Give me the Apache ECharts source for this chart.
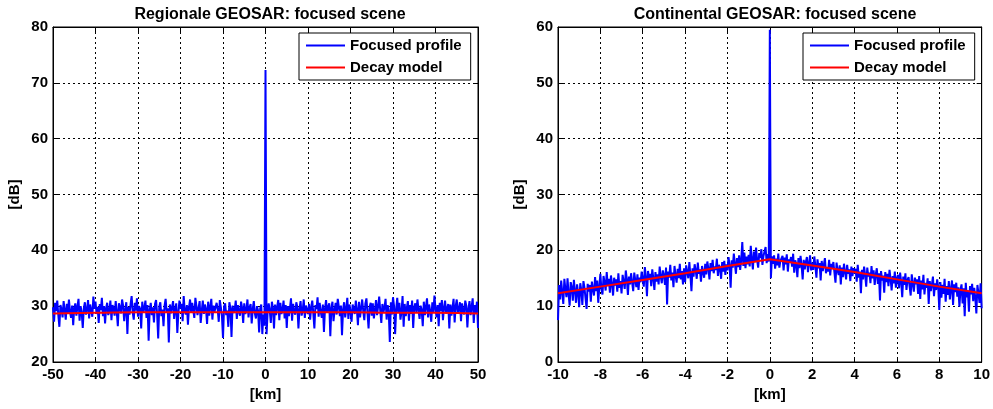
<!DOCTYPE html>
<html>
<head>
<meta charset="utf-8">
<script src="https://cdn.jsdelivr.net/npm/echarts@6/dist/echarts.min.js"></script>
<style>
html,body{margin:0;padding:0;background:#fff;}
#c{width:993px;height:409px;}
</style>
</head>
<body>
<div id="c"></div>
<script>
// ---------- DATA ----------
const titleL = 'Regionale GEOSAR: focused scene';
const titleR = 'Continental GEOSAR: focused scene';
const legendNames = ['Focused profile', 'Decay model'];

// Left panel: samples from -50 km to 50 km every 0.25 km (401 samples)
const startL = -50, stepL = 0.25;
const profileL = [
 29.8,27.2,30.6,29.1,31.0,28.4,26.3,30.2,29.5,28.0,30.9,29.3,27.6,30.4,28.8,31.2,29.0,27.9,30.1,26.6,
 29.7,30.5,28.3,29.9,31.3,27.4,30.0,28.9,26.1,29.6,30.7,28.5,29.4,31.1,27.8,30.3,29.2,28.1,31.7,29.5,
 30.8,28.6,29.9,27.0,30.4,29.3,31.5,28.2,30.0,26.9,29.7,30.6,28.4,29.1,31.0,27.5,30.2,29.6,28.3,30.9,
 29.0,26.4,30.5,29.8,28.7,31.2,30.1,27.3,29.4,30.7,25.0,29.9,28.5,30.3,31.8,28.9,27.6,30.6,29.2,31.4,
 28.1,30.0,29.5,26.0,30.8,28.8,29.7,31.0,27.9,30.2,23.8,29.3,30.6,28.4,29.8,27.1,30.4,31.1,28.6,24.2,
 29.9,30.7,28.2,29.4,26.4,30.1,31.3,28.9,29.6,23.5,30.3,28.7,29.0,30.9,27.7,29.5,30.5,25.2,28.8,31.0,
 29.6,30.4,27.3,31.8,29.1,28.5,30.2,26.7,29.8,31.2,28.9,30.6,29.3,27.9,31.5,30.0,28.4,29.7,30.9,27.0,
 29.2,31.0,28.6,30.3,29.5,26.8,30.8,28.3,29.9,31.3,27.6,30.1,29.0,28.7,30.6,29.4,27.2,31.1,29.8,28.2,
 24.3,29.9,30.5,28.4,29.2,26.3,30.7,29.6,24.5,30.1,28.8,29.4,31.0,27.7,30.2,29.1,28.3,30.8,29.7,27.0,
 30.5,28.6,29.3,31.2,28.0,29.8,30.4,26.9,29.5,30.9,28.7,27.8,30.0,29.2,25.3,29.6,30.3,25.0,28.5,26.5,
 72.3,
 25.0,28.9,30.5,29.3,27.0,30.8,29.7,26.0,30.3,28.4,
 29.9,31.1,27.5,30.6,28.6,29.4,31.0,27.8,30.2,26.1,
 30.0,28.2,29.6,31.4,27.4,30.4,29.0,28.5,30.7,29.8,
 26.0,29.5,30.9,28.3,29.2,31.2,27.9,30.1,29.4,28.6,
 30.4,27.6,29.8,31.0,28.7,26.0,30.2,29.5,31.6,28.1,
 30.6,29.0,27.9,30.3,25.4,29.6,31.1,28.8,29.9,30.5,
 24.6,29.7,30.8,27.3,29.2,30.6,28.5,31.3,29.9,28.2,
 30.1,24.8,29.4,30.7,28.0,29.6,31.5,27.7,30.3,29.1,
 27.2,30.3,29.5,28.6,31.0,29.4,26.6,30.8,28.0,29.7,
 31.2,29.1,27.5,30.5,31.4,28.7,26.0,29.9,30.6,28.3,
 30.5,27.8,29.3,31.1,28.4,30.0,31.7,29.2,27.0,30.4,
 28.9,29.8,31.3,27.6,30.2,29.0,23.6,30.7,28.5,31.6,
 30.0,25.0,29.5,31.5,28.8,30.6,27.6,29.0,31.8,26.3,
 30.4,28.2,29.7,30.9,27.4,30.2,28.6,31.0,26.1,29.8,
 30.5,28.9,31.2,29.4,27.7,30.1,29.3,26.4,30.8,28.4,
 29.9,31.4,28.0,30.3,29.1,27.2,30.7,28.8,31.9,29.6,
 28.0,30.2,26.4,30.6,29.1,31.1,27.5,29.7,31.0,28.7,
 29.6,30.4,26.0,30.3,28.3,29.8,31.3,27.1,30.0,31.2,
 28.8,29.4,30.7,27.3,30.5,29.2,28.5,31.0,30.1,26.2,
 29.5,30.9,28.4,29.9,31.4,27.0,30.2,28.6,30.8,26.1
];
const modelLx = [-50,-40,-30,-20,-10,0,10,20,30,40,50];
const modelLy = [28.7,28.8,28.9,28.9,28.9,28.9,28.9,28.9,28.8,28.8,28.7];

// Right panel: samples from -10 km to 10 km every 0.05 km (401 samples)
const startR = -10, stepR = 0.05;
const profileR = [
 7.5,13.8,11.2,14.6,12.5,10.4,14.9,13.0,11.6,15.0,12.2,10.1,14.3,13.4,11.0,14.7,12.8,10.6,13.9,12.4,
 9.8,14.1,12.9,10.2,14.5,13.3,11.4,9.5,14.0,12.6,13.8,10.8,14.4,13.1,11.9,15.2,12.7,14.6,10.6,13.5,
 15.8,13.0,12.1,15.4,14.2,12.8,16.1,13.6,14.9,12.4,15.5,14.0,11.9,15.1,13.7,14.8,12.6,15.9,13.3,14.5,
 12.3,15.6,14.4,13.1,16.4,14.8,12.0,15.3,13.9,15.9,14.2,12.7,16.0,14.6,13.4,15.7,12.9,15.1,14.3,16.2,
 14.9,13.5,17.0,15.2,11.8,16.3,14.7,15.8,13.6,16.6,15.0,12.9,16.1,14.4,15.7,13.9,17.1,15.3,14.1,16.4,
 15.6,13.8,16.9,10.3,16.2,15.1,17.4,14.6,16.0,13.4,17.2,15.5,14.2,16.7,15.0,17.6,14.8,16.3,13.9,16.8,
 14.3,17.3,16.1,15.0,17.9,15.6,12.7,16.8,15.3,17.5,16.4,14.9,17.8,15.8,16.6,14.4,17.2,16.0,15.1,17.6,
 15.7,18.0,16.7,14.8,17.7,16.3,18.3,15.9,17.1,16.5,18.5,15.4,17.4,16.8,14.9,17.9,16.2,18.1,15.6,17.5,
 16.4,18.8,17.3,13.3,18.2,16.9,19.4,17.6,15.8,18.6,17.0,19.1,16.5,18.3,21.5,17.2,19.6,16.8,18.9,17.5,
 19.2,17.1,20.8,18.4,16.6,19.8,17.9,20.5,18.2,16.9,19.5,18.6,20.2,17.4,19.0,18.8,20.6,17.7,19.3,18.0,
 59.5,
 15.0,18.9,17.6,19.1,16.7,18.5,17.3,19.4,16.9,18.1,17.8,19.0,16.4,18.7,17.5,19.3,16.2,18.4,17.9,18.8,
 17.1,19.4,16.0,18.2,17.5,15.2,18.6,16.8,19.0,17.3,14.8,18.3,16.6,17.9,18.8,16.1,17.6,19.1,16.4,17.8,
 16.5,18.9,17.2,15.1,18.4,16.8,17.7,14.6,18.1,16.3,17.4,18.6,15.9,17.0,16.2,18.3,15.5,17.6,16.9,17.9,
 16.0,14.2,17.8,16.4,15.6,17.3,13.9,16.9,15.2,17.6,16.1,14.8,17.4,15.8,16.6,14.5,17.1,15.4,16.8,15.9,
 16.7,14.4,17.4,15.1,16.2,12.3,16.5,14.8,17.1,15.6,13.5,16.9,15.3,16.0,14.1,17.2,15.0,16.4,13.8,15.7,
 16.8,14.0,15.9,11.0,16.3,14.6,15.5,12.4,16.1,14.3,15.8,13.6,16.5,14.9,12.8,15.4,14.1,16.2,13.3,15.0,
 15.6,13.2,16.0,14.4,11.6,15.3,13.8,15.9,12.9,14.7,15.2,13.5,11.9,15.7,14.0,12.6,15.1,13.9,14.8,12.2,
 15.4,11.3,14.6,13.0,15.6,12.1,14.2,13.3,15.0,10.4,14.5,12.7,13.8,15.3,11.8,14.1,12.9,14.8,13.4,9.3,
 14.3,11.5,13.8,12.2,14.9,10.8,13.6,12.0,14.5,11.2,13.1,14.6,10.2,13.9,12.5,14.2,11.7,13.4,9.9,13.0,
 13.9,10.5,13.2,8.2,14.2,11.6,12.8,9.0,13.6,12.1,14.0,10.9,13.3,11.4,8.7,13.8,12.3,10.6,14.1,9.6
];
const modelRx = [-10,-8,-6,-4,-2,0,2,4,6,8,10];
const modelRy = [12.3,13.5,14.7,15.9,17.2,18.4,17.3,16.1,14.8,13.5,12.3];

// ---------- CHART ----------
const FONT = '"Liberation Sans", Arial, sans-serif';
const pairs = (start, step, ys) => ys.map((y, i) => [+(start + i * step).toFixed(3), y]);
const zip = (xs, ys) => xs.map((x, i) => [x, ys[i]]);

const grids = [
  {left: 53, top: 27, width: 425, height: 335, show: true, borderColor: '#000', borderWidth: 1, backgroundColor: '#fff'},
  {left: 558, top: 27, width: 424, height: 335, show: true, borderColor: '#000', borderWidth: 1, backgroundColor: '#fff'}
];

const tickStyle = {show: true, inside: true, length: 5, lineStyle: {color: '#000'}};
const lineStyleAx = {show: true, onZero: false, lineStyle: {color: '#000', width: 1}};
const gridLine = {show: true, lineStyle: {color: '#000', type: [2, 3], width: 1}};

function mainX(gi, min, max, interval) {
  return {
    type: 'value', gridIndex: gi, min, max, interval, position: 'bottom',
    name: '[km]', nameLocation: 'middle', nameGap: 23,
    nameTextStyle: {fontFamily: FONT, fontSize: 15, fontWeight: 'bold', color: '#000'},
    axisLine: lineStyleAx, axisTick: tickStyle,
    axisLabel: {fontFamily: FONT, fontSize: 15, fontWeight: 'bold', color: '#000', margin: 5},
    splitLine: gridLine
  };
}
function topX(gi, min, max, interval) {
  return {
    type: 'value', gridIndex: gi, min, max, interval, position: 'top',
    axisLine: lineStyleAx, axisTick: tickStyle,
    axisLabel: {show: false}, splitLine: {show: false}
  };
}
function mainY(gi, min, max, interval) {
  return {
    type: 'value', gridIndex: gi, min, max, interval, position: 'left',
    name: '[dB]', nameLocation: 'middle', nameGap: 31, nameRotate: 90,
    nameTextStyle: {fontFamily: FONT, fontSize: 15, fontWeight: 'bold', color: '#000'},
    axisLine: lineStyleAx, axisTick: tickStyle,
    axisLabel: {fontFamily: FONT, fontSize: 15, fontWeight: 'bold', color: '#000', margin: 5},
    splitLine: gridLine
  };
}
function rightY(gi, min, max, interval) {
  return {
    type: 'value', gridIndex: gi, min, max, interval, position: 'right',
    axisLine: lineStyleAx, axisTick: tickStyle,
    axisLabel: {show: false}, splitLine: {show: false}
  };
}

function legend(left, names) {
  return {
    left, top: 33, orient: 'vertical', data: names,
    backgroundColor: '#fff', borderColor: '#000', borderWidth: 1, borderRadius: 0,
    padding: [5, 9, 5, 7], itemGap: 7, itemWidth: 39, itemHeight: 2, icon: 'rect',
    textStyle: {fontFamily: FONT, fontSize: 15, fontWeight: 'bold', color: '#000'},
    selectedMode: false
  };
}

const chart = echarts.init(document.getElementById('c'), null, {renderer: 'canvas'});
chart.setOption({
  animation: false,
  backgroundColor: '#fff',
  title: [
    {text: titleL, left: 265, top: 2, textAlign: 'center',
     textStyle: {fontFamily: FONT, fontSize: 16, fontWeight: 'bold', color: '#000'}},
    {text: titleR, left: 770, top: 2, textAlign: 'center',
     textStyle: {fontFamily: FONT, fontSize: 16, fontWeight: 'bold', color: '#000'}}
  ],
  grid: grids,
  xAxis: [mainX(0, -50, 50, 10), topX(0, -50, 50, 10), mainX(1, -10, 10, 2), topX(1, -10, 10, 2)],
  yAxis: [mainY(0, 20, 80, 10), rightY(0, 20, 80, 10), mainY(1, 0, 60, 10), rightY(1, 0, 60, 10)],
  legend: [
    Object.assign(legend(299, legendNames), {id: 'lgL'}),
    Object.assign(legend(803, legendNames), {id: 'lgR'})
  ],
  series: [
    {name: legendNames[0], type: 'line', xAxisIndex: 0, yAxisIndex: 0, data: pairs(startL, stepL, profileL),
     showSymbol: false, lineStyle: {color: '#0000ff', width: 2}, itemStyle: {color: '#0000ff'}},
    {name: legendNames[1], type: 'line', xAxisIndex: 0, yAxisIndex: 0, data: zip(modelLx, modelLy),
     showSymbol: false, smooth: true, lineStyle: {color: '#ff0000', width: 2}, itemStyle: {color: '#ff0000'}},
    {name: legendNames[0], type: 'line', xAxisIndex: 2, yAxisIndex: 2, data: pairs(startR, stepR, profileR),
     showSymbol: false, lineStyle: {color: '#0000ff', width: 2}, itemStyle: {color: '#0000ff'}},
    {name: legendNames[1], type: 'line', xAxisIndex: 2, yAxisIndex: 2, data: zip(modelRx, modelRy),
     showSymbol: false, lineStyle: {color: '#ff0000', width: 2}, itemStyle: {color: '#ff0000'}}
  ]
});
</script>
</body>
</html>
